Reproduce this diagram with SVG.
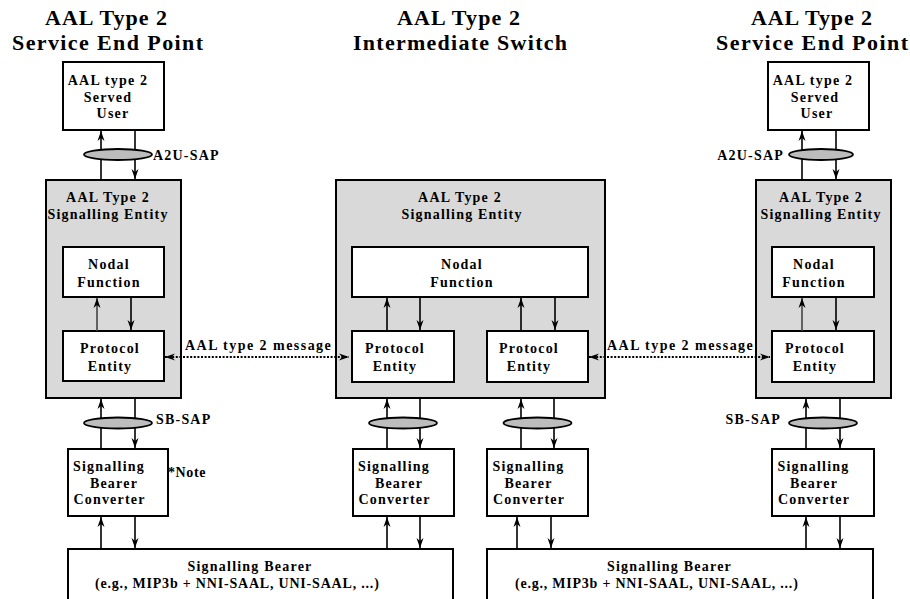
<svg xmlns="http://www.w3.org/2000/svg" width="910" height="599" viewBox="0 0 910 599">
  <defs>
    <style>
      text { font-family: "Liberation Serif", "Times New Roman", serif; font-weight: bold; fill: #000; }
      .title { font-size: 22px; text-anchor: middle; }
      .lbl { font-size: 14px; letter-spacing: 1.2px; text-anchor: middle; }
      .side { font-size: 14px; letter-spacing: 1.2px; }
      .box { fill: #fff; stroke: #000; stroke-width: 2; }
      .entity { fill: #d9d9d9; stroke: #000; stroke-width: 2; }
      .sap { fill: #bdbdbd; stroke: #000; stroke-width: 1.8; }
      .flow { fill: none; stroke: #000; stroke-width: 1.6; marker-end: url(#head); }
      .msg { fill: none; stroke: #000; stroke-width: 2.2; stroke-dasharray: 2 1.6; marker-start: url(#head); marker-end: url(#head); }
    </style>
    <marker id="head" markerUnits="userSpaceOnUse" markerWidth="11" markerHeight="8" refX="10" refY="4" orient="auto-start-reverse" viewBox="0 0 11 8">
      <path d="M0,0.5 L10,4 L0,7.5 L3,4 z" fill="#000"/>
    </marker>
  </defs>

  <!-- column headings -->
  <g id="headings">
    <text class="title" x="106" y="25" textLength="122" lengthAdjust="spacing">AAL Type 2</text>
    <text class="title" x="107.5" y="50" textLength="191" lengthAdjust="spacing">Service End Point</text>
    <text class="title" x="458.5" y="25" textLength="123" lengthAdjust="spacing">AAL Type 2</text>
    <text class="title" x="460" y="50" textLength="214" lengthAdjust="spacing">Intermediate Switch</text>
    <text class="title" x="811.5" y="25" textLength="121" lengthAdjust="spacing">AAL Type 2</text>
    <text class="title" x="812" y="50" textLength="192" lengthAdjust="spacing">Service End Point</text>
  </g>

  <!-- signalling entities (grey containers) -->
  <g id="entity-left">
    <rect class="entity" x="46" y="180" width="135" height="218"/>
    <text class="lbl" x="108" y="202">AAL Type 2</text>
    <text class="lbl" x="108" y="219">Signalling Entity</text>
  </g>
  <g id="entity-mid">
    <rect class="entity" x="336" y="180" width="269" height="218"/>
    <text class="lbl" x="460" y="202">AAL Type 2</text>
    <text class="lbl" x="462" y="219">Signalling Entity</text>
  </g>
  <g id="entity-right">
    <rect class="entity" x="756" y="180" width="135" height="218"/>
    <text class="lbl" x="821" y="202">AAL Type 2</text>
    <text class="lbl" x="821" y="219">Signalling Entity</text>
  </g>

  <!-- served users -->
  <g id="user-left">
    <rect class="box" x="63" y="62" width="101" height="68"/>
    <text class="lbl" x="108" y="84.5">AAL type 2</text>
    <text class="lbl" x="108" y="101.5">Served</text>
    <text class="lbl" x="113" y="118">User</text>
  </g>
  <g id="user-right">
    <rect class="box" x="768" y="62" width="101" height="68"/>
    <text class="lbl" x="813" y="84.5">AAL type 2</text>
    <text class="lbl" x="815" y="101.5">Served</text>
    <text class="lbl" x="817" y="118">User</text>
  </g>

  <!-- nodal functions -->
  <g id="nodal-left">
    <rect class="box" x="63" y="247" width="101" height="50"/>
    <text class="lbl" x="109" y="269">Nodal</text>
    <text class="lbl" x="109" y="287">Function</text>
  </g>
  <g id="nodal-mid">
    <rect class="box" x="352" y="247" width="236" height="50"/>
    <text class="lbl" x="462" y="269">Nodal</text>
    <text class="lbl" x="462" y="287">Function</text>
  </g>
  <g id="nodal-right">
    <rect class="box" x="772" y="247" width="102" height="50"/>
    <text class="lbl" x="814" y="269">Nodal</text>
    <text class="lbl" x="814" y="287">Function</text>
  </g>

  <!-- protocol entities -->
  <g id="protocol-left">
    <rect class="box" x="63" y="331" width="101" height="50"/>
    <text class="lbl" x="110" y="353">Protocol</text>
    <text class="lbl" x="110" y="371">Entity</text>
  </g>
  <g id="protocol-mid-a">
    <rect class="box" x="352" y="331" width="102" height="51"/>
    <text class="lbl" x="395" y="353">Protocol</text>
    <text class="lbl" x="395" y="371">Entity</text>
  </g>
  <g id="protocol-mid-b">
    <rect class="box" x="487" y="331" width="101" height="51"/>
    <text class="lbl" x="529" y="353">Protocol</text>
    <text class="lbl" x="529" y="371">Entity</text>
  </g>
  <g id="protocol-right">
    <rect class="box" x="772" y="331" width="102" height="51"/>
    <text class="lbl" x="815" y="353">Protocol</text>
    <text class="lbl" x="815" y="371">Entity</text>
  </g>

  <!-- signalling bearer converters -->
  <g id="converter-left">
    <rect class="box" x="68" y="449" width="100" height="67"/>
    <text class="lbl" x="109" y="471">Signalling</text>
    <text class="lbl" x="114" y="488">Bearer</text>
    <text class="lbl" x="109.5" y="504">Converter</text>
  </g>
  <g id="converter-mid-a">
    <rect class="box" x="353" y="449" width="101" height="67"/>
    <text class="lbl" x="394" y="471">Signalling</text>
    <text class="lbl" x="399" y="488">Bearer</text>
    <text class="lbl" x="394.5" y="504">Converter</text>
  </g>
  <g id="converter-mid-b">
    <rect class="box" x="487" y="449" width="101" height="67"/>
    <text class="lbl" x="528.5" y="471">Signalling</text>
    <text class="lbl" x="528.5" y="488">Bearer</text>
    <text class="lbl" x="529" y="504">Converter</text>
  </g>
  <g id="converter-right">
    <rect class="box" x="772" y="449" width="102" height="67"/>
    <text class="lbl" x="813.5" y="471">Signalling</text>
    <text class="lbl" x="814" y="488">Bearer</text>
    <text class="lbl" x="814" y="504">Converter</text>
  </g>

  <!-- signalling bearers -->
  <g id="bearer-left">
    <rect class="box" x="68" y="549" width="385" height="60"/>
    <text class="lbl" x="250" y="571" textLength="125" lengthAdjust="spacing">Signalling Bearer</text>
    <text class="lbl" x="237.5" y="588" textLength="285" lengthAdjust="spacing">(e.g., MIP3b + NNI-SAAL, UNI-SAAL, ...)</text>
  </g>
  <g id="bearer-right">
    <rect class="box" x="487" y="549" width="386" height="60"/>
    <text class="lbl" x="669.5" y="571" textLength="125" lengthAdjust="spacing">Signalling Bearer</text>
    <text class="lbl" x="657" y="588" textLength="284" lengthAdjust="spacing">(e.g., MIP3b + NNI-SAAL, UNI-SAAL, ...)</text>
  </g>

  <!-- connectors -->
  <g id="connectors">
    <!-- left end point -->
    <line class="flow" x1="101" y1="180" x2="101" y2="131"/>
    <line class="flow" x1="135" y1="130" x2="135" y2="179"/>
    <line class="flow" x1="97" y1="331" x2="97" y2="298" style="stroke:#444"/>
    <line class="flow" x1="131" y1="297" x2="131" y2="330"/>
    <line class="flow" x1="101" y1="449" x2="101" y2="399"/>
    <line class="flow" x1="135" y1="398" x2="135" y2="448"/>
    <line class="flow" x1="101" y1="549" x2="101" y2="517"/>
    <line class="flow" x1="135" y1="516" x2="135" y2="548"/>

    <!-- intermediate switch, side A -->
    <line class="flow" x1="387" y1="331" x2="387" y2="298"/>
    <line class="flow" x1="420" y1="297" x2="420" y2="330"/>
    <line class="flow" x1="387" y1="449" x2="387" y2="399"/>
    <line class="flow" x1="420" y1="398" x2="420" y2="448"/>
    <line class="flow" x1="387" y1="549" x2="387" y2="517"/>
    <line class="flow" x1="420" y1="516" x2="420" y2="548"/>

    <!-- intermediate switch, side B -->
    <line class="flow" x1="521" y1="331" x2="521" y2="298"/>
    <line class="flow" x1="555" y1="297" x2="555" y2="330"/>
    <line class="flow" x1="521" y1="449" x2="521" y2="399"/>
    <line class="flow" x1="554" y1="398" x2="554" y2="448"/>
    <line class="flow" x1="517" y1="549" x2="517" y2="517"/>
    <line class="flow" x1="551" y1="516" x2="551" y2="548"/>

    <!-- right end point -->
    <line class="flow" x1="802" y1="180" x2="802" y2="131"/>
    <line class="flow" x1="836" y1="130" x2="836" y2="179"/>
    <line class="flow" x1="802" y1="331" x2="802" y2="298" style="stroke:#444"/>
    <line class="flow" x1="836" y1="297" x2="836" y2="330"/>
    <line class="flow" x1="806" y1="449" x2="806" y2="399"/>
    <line class="flow" x1="840" y1="398" x2="840" y2="448"/>
    <line class="flow" x1="806" y1="549" x2="806" y2="517"/>
    <line class="flow" x1="840" y1="516" x2="840" y2="548"/>

    <!-- service access points -->
    <ellipse class="sap" cx="118" cy="154.5" rx="34" ry="5.5"/>
    <ellipse class="sap" cx="821" cy="154.5" rx="32" ry="5.5"/>
    <ellipse class="sap" cx="118" cy="423" rx="34" ry="5.5"/>
    <ellipse class="sap" cx="403" cy="423" rx="34" ry="5.5"/>
    <ellipse class="sap" cx="537.5" cy="423" rx="34" ry="5.5"/>
    <ellipse class="sap" cx="823" cy="423" rx="34" ry="5.5"/>

    <!-- peer-to-peer messages -->
    <line class="msg" x1="165" y1="357" x2="349" y2="357"/>
    <line class="msg" x1="589" y1="357" x2="770" y2="357"/>
    <text class="side" x="185" y="350" textLength="147" lengthAdjust="spacing">AAL type 2 message</text>
    <text class="side" x="607" y="350" textLength="147" lengthAdjust="spacing">AAL type 2 message</text>

    <!-- SAP labels and note -->
    <text class="side" x="153" y="160">A2U-SAP</text>
    <text class="side" x="784" y="160" style="text-anchor:end">A2U-SAP</text>
    <text class="side" x="156" y="424">SB-SAP</text>
    <text class="side" x="781" y="424" style="text-anchor:end">SB-SAP</text>
    <text class="side" x="168" y="477" style="letter-spacing:0.6px">*Note</text>
  </g>
</svg>
